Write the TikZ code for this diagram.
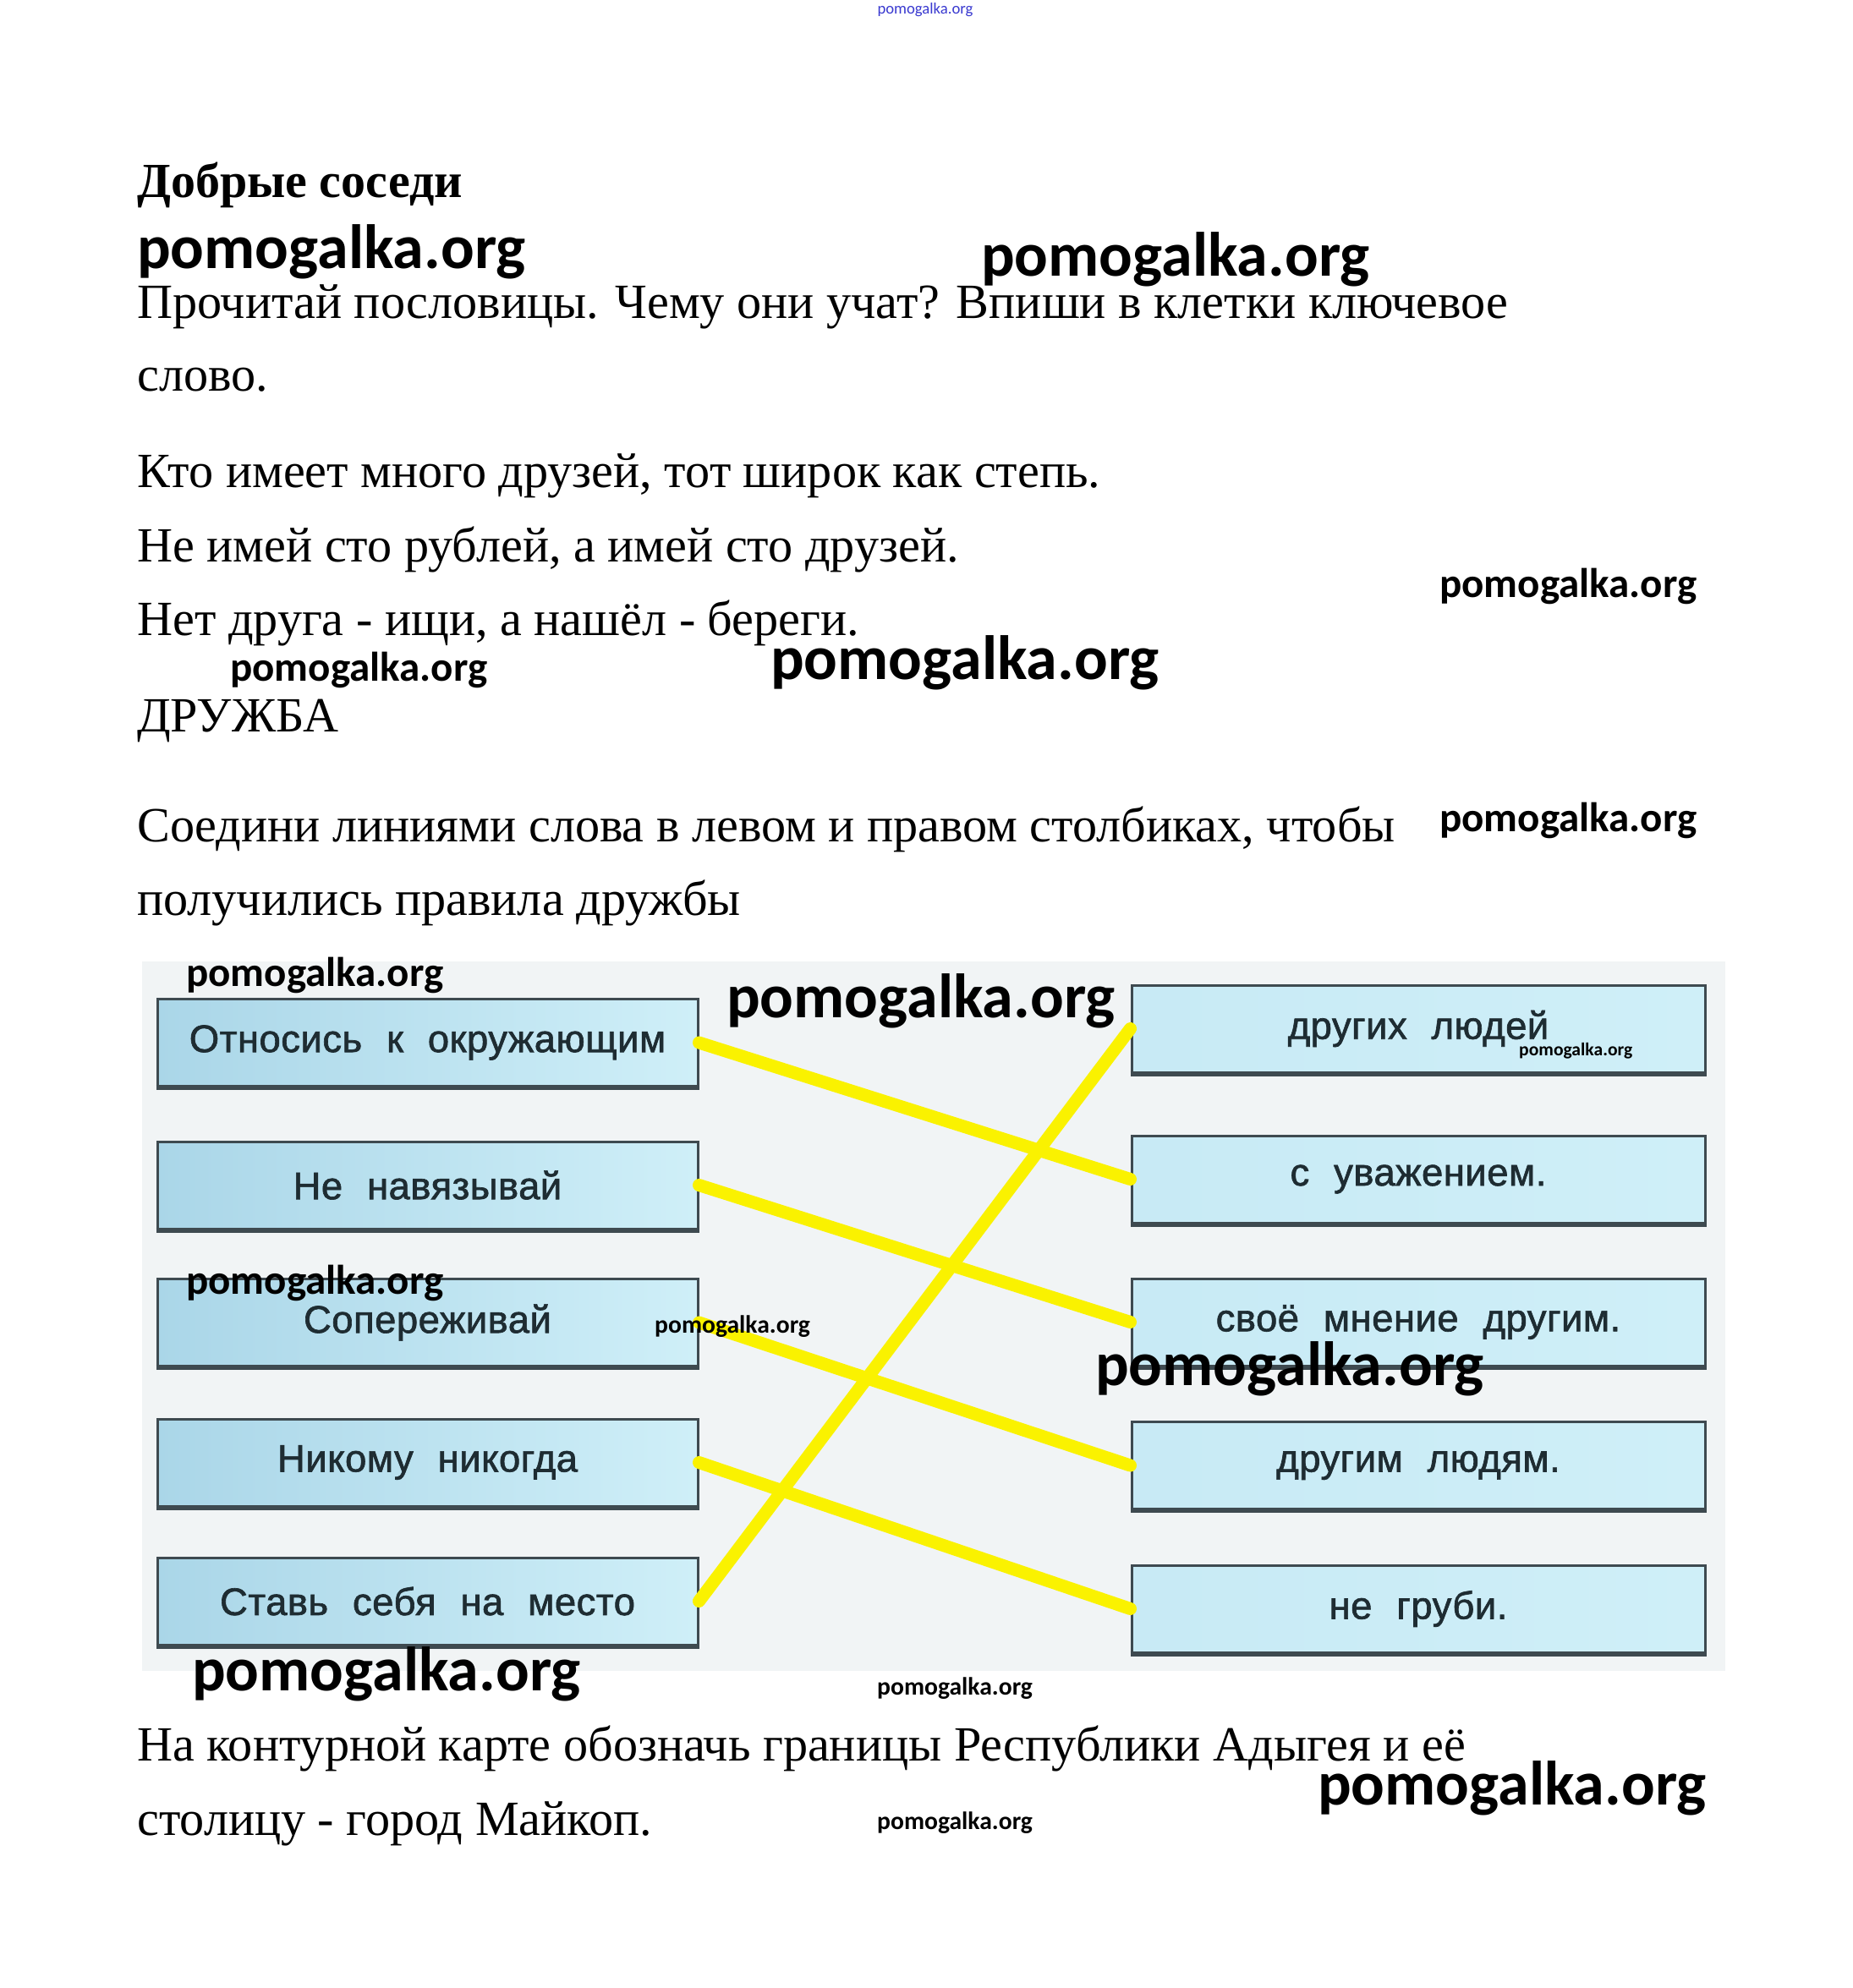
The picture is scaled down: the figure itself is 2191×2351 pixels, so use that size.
\documentclass[tikz,border=0pt]{standalone}
\usepackage{fontspec}
\setmainfont{Liberation Serif}
\newfontfamily\wmfont{Carlito}
\newfontfamily\boxfont{Liberation Sans}[LetterSpace=1,WordSpace=2.2,FakeBold=1.4]
\definecolor{photobg}{HTML}{F1F4F5}
\definecolor{boxl}{HTML}{AAD6E8}
\definecolor{boxr}{HTML}{CFEFF8}
\definecolor{boxline}{HTML}{3E4A50}
\definecolor{boxtext}{HTML}{1E2C32}
\definecolor{hl}{HTML}{FAF200}
\definecolor{wmblue}{HTML}{3A3AD0}
\begin{document}
\begin{tikzpicture}[x=1pt,y=-1pt,
  body/.style={anchor=base west,inner sep=0pt,font=\fontsize{58.2}{58.2}\selectfont},
  title/.style={anchor=base west,inner sep=0pt,font=\fontsize{58}{58}\selectfont\bfseries},
  wmbig/.style={anchor=west,inner sep=0pt,font=\wmfont\bfseries\fontsize{74}{74}\selectfont},
  wmmed/.style={anchor=west,inner sep=0pt,font=\wmfont\bfseries\fontsize{49}{49}\selectfont},
  wmsmall/.style={anchor=west,inner sep=0pt,font=\wmfont\bfseries\fontsize{29.6}{29.6}\selectfont},
  wmtiny/.style={anchor=west,inner sep=0pt,font=\wmfont\bfseries\fontsize{21.6}{21.6}\selectfont},
  wordbox/.style={draw=boxline,line width=3pt,left color=boxl,right color=boxr,
    minimum height=103pt,inner sep=0pt,text=boxtext,font=\boxfont\fontsize{45.5}{45.5}\selectfont},
  lbox/.style={wordbox,minimum width=639pt},
  rbox/.style={wordbox,minimum width=678pt,left color=boxr!80!boxl},
  boxfoot/.style={draw=boxline,line width=6pt},
  link/.style={draw=hl,line width=15pt,line cap=round}
]
\useasboundingbox (0,0) rectangle (2191,2351);
\fill[white] (0,0) rectangle (2191,2351);

% top tiny watermark
\node[anchor=center,inner sep=0pt,text=wmblue,font=\wmfont\fontsize{18.7}{18.7}\selectfont] (wtop) at (1094,12) {pomogalka.org};

% text
\node[title] (t0) at (162,233) {Добрые соседи};
\node[body] (t1) at (162,376) {Прочитай пословицы. Чему они учат? Впиши в клетки ключевое};
\node[body] (t2) at (162,462) {слово.};
\node[body] (t3) at (162,576) {Кто имеет много друзей, тот широк как степь.};
\node[body] (t4) at (162,664) {Не имей сто рублей, а имей сто друзей.};
\node[body] (t5) at (162,751) {Нет друга - ищи, а нашёл - береги.};
\node[body] (t6) at (162,865) {ДРУЖБА};
\node[body] (t7) at (162,995) {Соедини линиями слова в левом и правом столбиках, чтобы};
\node[body] (t8) at (162,1082) {получились правила дружбы};
\node[body] (t9) at (162,2082) {На контурной карте обозначь границы Республики Адыгея и её};
\node[body] (t10) at (162,2170) {столицу - город Майкоп.};

% photo
\fill[photobg] (168,1137) rectangle (2040,1976);

\node[lbox] (L1) at (505.5,1233) {Относись к окружающим};
\node[lbox] (L2) at (505.5,1401.5) {Не навязывай};
\node[lbox] (L3) at (505.5,1564) {Сопереживай};
\node[lbox] (L4) at (505.5,1729.5) {Никому никогда};
\node[lbox] (L5) at (505.5,1893.5) {Ставь себя на место};

\node[rbox] (R1) at (1677,1216.5) {других людей};
\node[rbox] (R2) at (1677,1394.5) {с уважением.};
\node[rbox] (R3) at (1677,1563.5) {своё мнение другим.};
\node[rbox] (R4) at (1677,1733) {другим людям.};
\node[rbox] (R5) at (1677,1902.5) {не груби.};

\foreach \n in {L1,L2,L3,L4,L5,R1,R2,R3,R4,R5}
  \draw[boxfoot] (\n.south west) -- (\n.south east);

\draw[link] (L1.east) -- (R2.west);
\draw[link] (L2.east) -- (R3.west);
\draw[link] (L3.east) -- (R4.west);
\draw[link] (L4.east) -- (R5.west);
\draw[link] (L5.east) -- (R1.west);

% watermarks
\node[wmbig] (w1) at (162,298) {pomogalka.org};
\node[wmbig] (w2) at (1160,307) {pomogalka.org};
\node[wmmed] (w3) at (1702,693) {pomogalka.org};
\node[wmbig] (w4) at (911,784) {pomogalka.org};
\node[wmmed] (w5) at (272,792) {pomogalka.org};
\node[wmmed] (w6) at (1702,970) {pomogalka.org};
\node[wmmed] (w7) at (220,1153) {pomogalka.org};
\node[wmbig] (w8) at (859,1184) {pomogalka.org};
\node[wmtiny] (w9) at (1796,1243) {pomogalka.org};
\node[wmmed] (w10) at (220,1517) {pomogalka.org};
\node[wmsmall] (w11) at (774,1569) {pomogalka.org};
\node[wmbig] (w12) at (1295,1619) {pomogalka.org};
\node[wmbig] (w13) at (227,1980) {pomogalka.org};
\node[wmsmall] (w14) at (1037,1997) {pomogalka.org};
\node[wmbig] (w15) at (1558,2115) {pomogalka.org};
\node[wmsmall] (w16) at (1037,2156) {pomogalka.org};
\end{tikzpicture}
\end{document}
